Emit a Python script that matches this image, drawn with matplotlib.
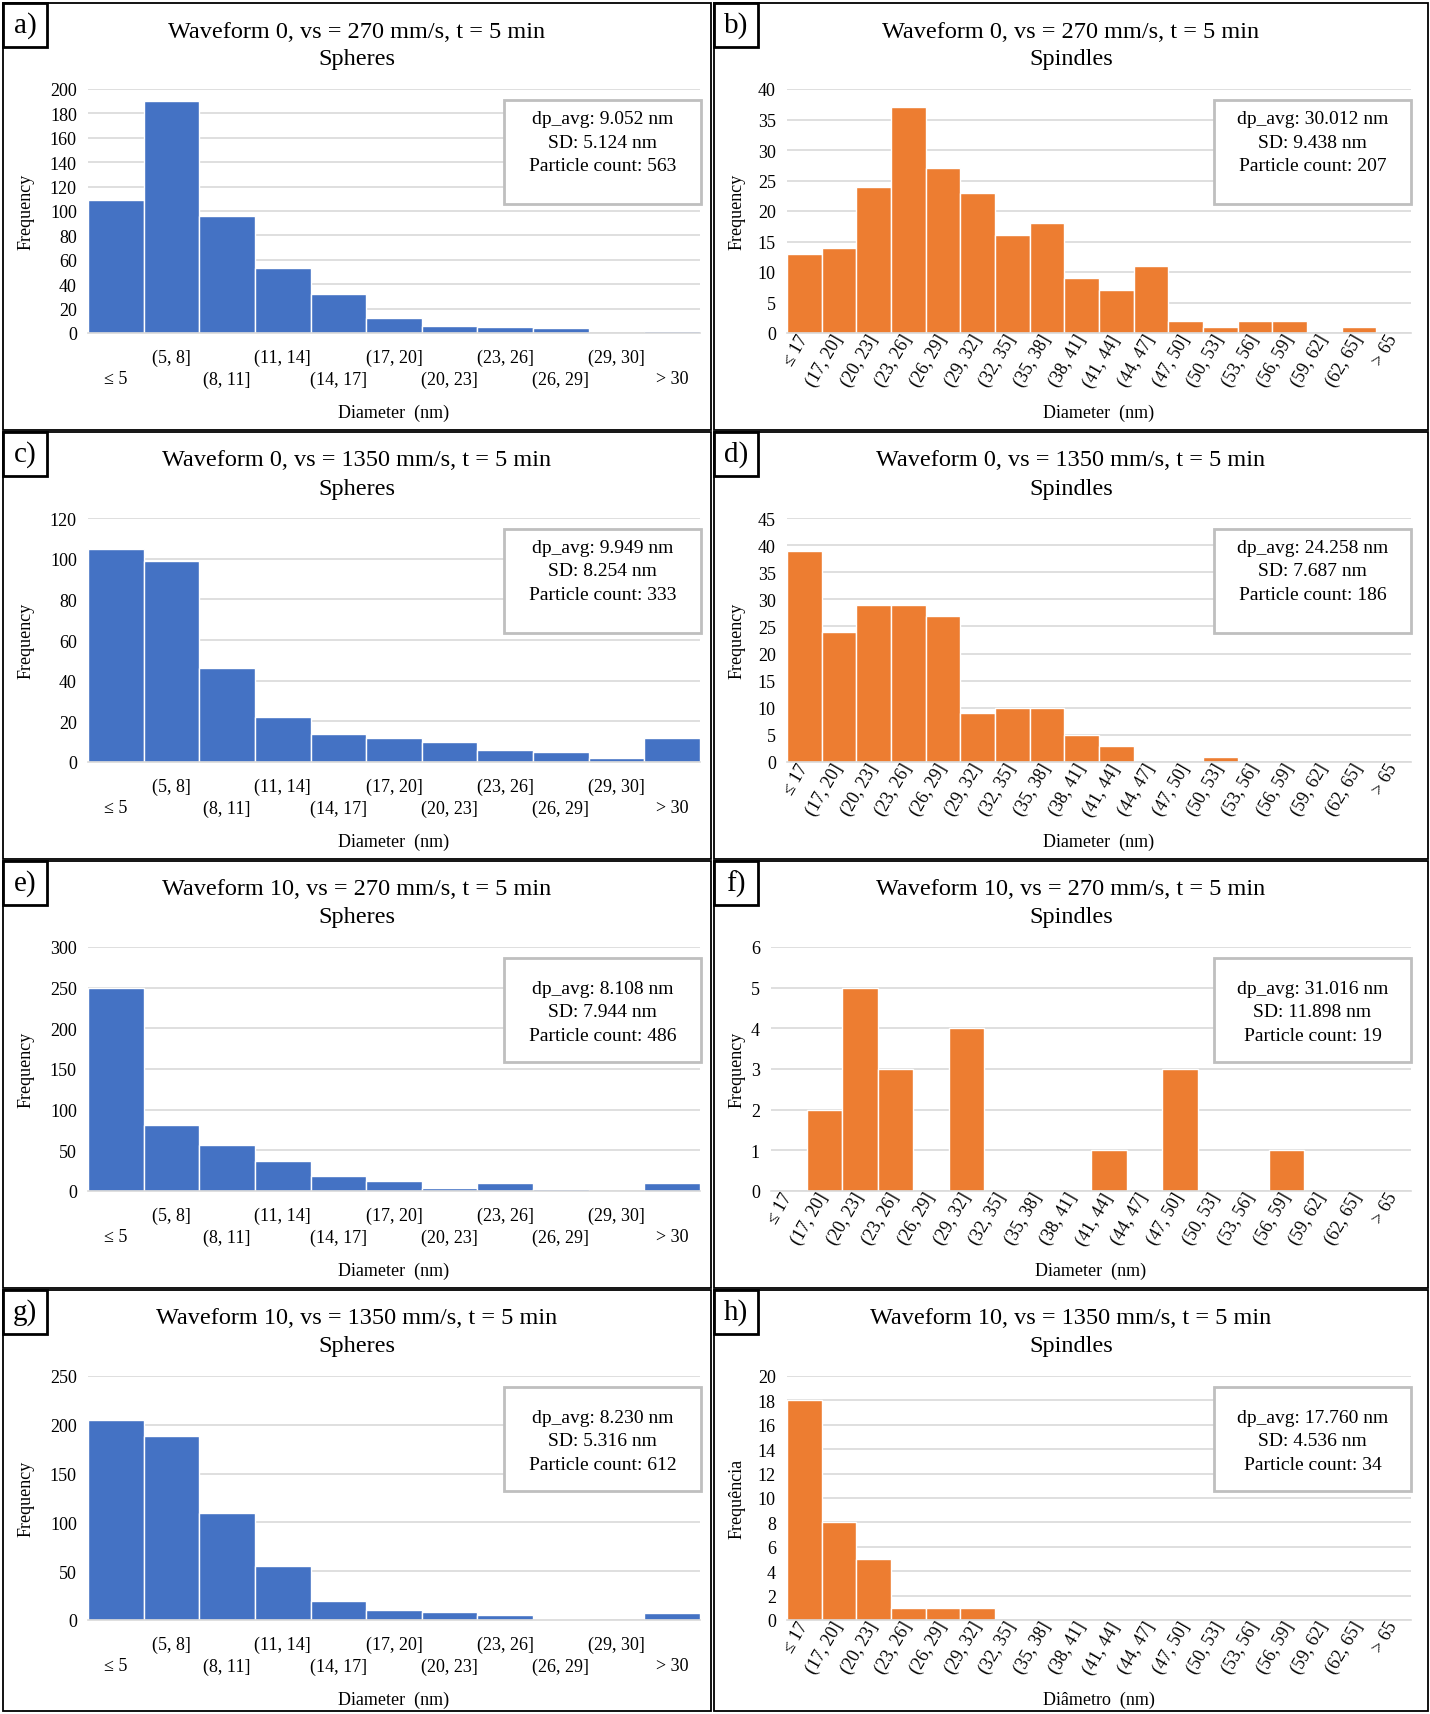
import matplotlib
matplotlib.use('Agg')
import matplotlib.pyplot as plt
from matplotlib.patches import Rectangle

plt.rcParams['font.family'] = ['Liberation Serif', 'DejaVu Serif']

# categorias
sphere_bins = ['≤ 5', '(5, 8]', '(8, 11]', '(11, 14]', '(14, 17]', '(17, 20]',
               '(20, 23]', '(23, 26]', '(26, 29]', '(29, 30]', '> 30']
spindle_bins = ['≤ 17', '(17, 20]', '(20, 23]', '(23, 26]', '(26, 29]', '(29, 32]',
                '(32, 35]', '(35, 38]', '(38, 41]', '(41, 44]', '(44, 47]', '(47, 50]',
                '(50, 53]', '(53, 56]', '(56, 59]', '(59, 62]', '(62, 65]', '> 65']

# frequencias
freq_a = [109, 190, 96, 53, 32, 12, 6, 5, 4, 0, 2]
freq_b = [13, 14, 24, 37, 27, 23, 16, 18, 9, 7, 11, 2, 1, 2, 2, 0, 1, 0]
freq_c = [105, 99, 46, 22, 14, 12, 10, 6, 5, 2, 12]
freq_d = [39, 24, 29, 29, 27, 9, 10, 10, 5, 3, 0, 0, 1, 0, 0, 0, 0, 0]
freq_e = [250, 81, 57, 37, 19, 12, 4, 10, 2, 0, 10]
freq_f = [0, 2, 5, 3, 0, 4, 0, 0, 0, 1, 0, 3, 0, 0, 1, 0, 0, 0]
freq_g = [205, 189, 110, 55, 19, 10, 8, 5, 1, 0, 7]
freq_h = [18, 8, 5, 1, 1, 1, 0, 0, 0, 0, 0, 0, 0, 0, 0, 0, 0, 0]

titles = ['Waveform 0, vs = 270 mm/s, t = 5 min', 'Waveform 0, vs = 270 mm/s, t = 5 min',
          'Waveform 0, vs = 1350 mm/s, t = 5 min', 'Waveform 0, vs = 1350 mm/s, t = 5 min',
          'Waveform 10, vs = 270 mm/s, t = 5 min', 'Waveform 10, vs = 270 mm/s, t = 5 min',
          'Waveform 10, vs = 1350 mm/s, t = 5 min', 'Waveform 10, vs = 1350 mm/s, t = 5 min']
shapes = ['Spheres', 'Spindles'] * 4
dp_avg = ['9.052', '30.012', '9.949', '24.258', '8.108', '31.016', '8.230', '17.760']
sd = ['5.124', '9.438', '8.254', '7.687', '7.944', '11.898', '5.316', '4.536']
counts = [563, 207, 333, 186, 486, 19, 612, 34]
ymax = [200, 40, 120, 45, 300, 6, 250, 20]
ystep = [20, 5, 20, 5, 50, 1, 50, 2]
ylabels = ['Frequency'] * 7 + ['Frequência']
xlabels = ['Diameter  (nm)'] * 7 + ['Diâmetro  (nm)']
letters = ['a)', 'b)', 'c)', 'd)', 'e)', 'f)', 'g)', 'h)']
freqs = [freq_a, freq_b, freq_c, freq_d, freq_e, freq_f, freq_g, freq_h]

W, H = 1430, 1715
fig = plt.figure(figsize=(W / 100, H / 100), dpi=100)


def fx(x):
    return x / W


def fy(y):
    return 1 - y / H


def box(x0, y0, x1, y1, **kw):
    fig.add_artist(Rectangle((fx(x0), fy(y1)), (x1 - x0) / W, (y1 - y0) / H,
                             transform=fig.transFigure, **kw))


row_top = [4, 433, 862, 1291]
row_bot = [431, 860, 1289, 1712]
col_left = [3, 714]
col_right = [711, 1428]
plot_left = [88, 787, 88, 787, 88, 771, 88, 787]
plot_right = [700, 1411]
stats_box = [(504, 701), (1214, 1411)]

for i in range(8):
    r, c = i // 2, i % 2
    top = row_top[r]
    px0, px1 = col_left[c], col_right[c]
    box(px0, top, px1, row_bot[r], fill=False, ec='black', lw=1.3)

    # rotulo da letra
    box(px0, top, px0 + 44, top + 44, fill=False, ec='black', lw=2)
    fig.text(fx(px0 + 22), fy(top + 22), letters[i], fontsize=21, ha='center', va='center')

    # titulo
    cx = (px0 + px1) / 2
    fig.text(fx(cx), fy(top + 28), titles[i], fontsize=17.5, ha='center', va='center')
    fig.text(fx(cx), fy(top + 56), shapes[i], fontsize=17.5, ha='center', va='center')

    x0, x1 = plot_left[i], plot_right[c]
    y0, y1 = top + 86, top + 330
    ax = fig.add_axes([fx(x0), fy(y1), (x1 - x0) / W, (y1 - y0) / H])

    vals = freqs[i]
    cats = sphere_bins if c == 0 else spindle_bins
    color = '#4472C4' if c == 0 else '#ED7D31'
    n = len(cats)
    ax.bar(range(n), vals, width=1.0, color=color, edgecolor='white', linewidth=1)
    ax.set_xlim(-0.5, n - 0.5)
    ax.set_ylim(0, ymax[i])
    ax.set_yticks(range(0, ymax[i] + 1, ystep[i]))
    ax.grid(axis='y', color='#D9D9D9', lw=1.2)
    ax.set_axisbelow(True)
    for s in ['top', 'left', 'right']:
        ax.spines[s].set_visible(False)
    ax.spines['bottom'].set_color('#D9D9D9')
    ax.spines['bottom'].set_linewidth(1.2)
    ax.tick_params(length=0, labelsize=13)
    ax.tick_params(axis='y', pad=8)

    ax.set_xticks(range(n))
    if c == 0:
        labs = [('\n' + l) if k % 2 == 0 else l for k, l in enumerate(cats)]
        ax.set_xticklabels(labs, fontsize=13, linespacing=1.4)
        ax.tick_params(axis='x', pad=11)
    else:
        ax.set_xticklabels(cats, fontsize=13, rotation=60, ha='right', va='center',
                           rotation_mode='anchor')
        ax.tick_params(axis='x', pad=2)

    fig.text(fx((x0 + x1) / 2), fy(top + 409), xlabels[i], fontsize=13,
             ha='center', va='center')
    fig.text(fx(px0 + 23), fy((y0 + y1) / 2), ylabels[i], fontsize=13,
             ha='center', va='center', rotation=90)

    # caixa de estatisticas
    bx0, bx1 = stats_box[c]
    box(bx0, top + 97, bx1, top + 201, fc='white', ec='#BFBFBF', lw=2, zorder=5)
    ty = top + 139 if r < 2 else top + 151
    txt = 'dp_avg: %s nm\nSD: %s nm\nParticle count: %d' % (dp_avg[i], sd[i], counts[i])
    fig.text(fx((bx0 + bx1) / 2), fy(ty), txt, fontsize=14, ha='center', va='center',
             linespacing=1.5, zorder=6)

fig.savefig('out.png', dpi=100, facecolor='white')
